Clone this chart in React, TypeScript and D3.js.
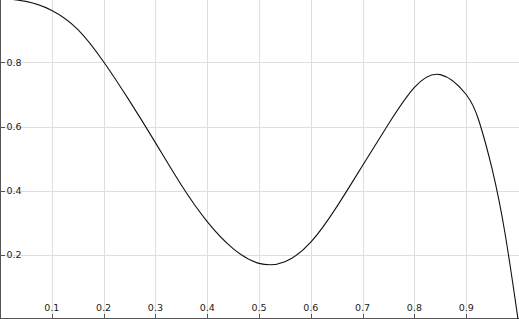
import * as d3 from "d3";

const W = 519;
const H = 319;

// curve samples
const xs = [0, 0.05, 0.1, 0.15, 0.2, 0.25, 0.3, 0.35, 0.4, 0.45, 0.5, 0.55, 0.6, 0.65, 0.7, 0.75, 0.8, 0.85, 0.9, 0.925, 0.95, 0.975, 1.0];
const ys = [1.0, 0.99, 0.962, 0.903, 0.802, 0.68, 0.55, 0.418, 0.304, 0.22, 0.174, 0.179, 0.24, 0.35, 0.479, 0.608, 0.722, 0.762, 0.7, 0.616, 0.468, 0.267, 0.0];

const xTicks = [0.1, 0.2, 0.3, 0.4, 0.5, 0.6, 0.7, 0.8, 0.9];
const yTicks = [0.2, 0.4, 0.6, 0.8];

export default function App() {
  const x = d3.scaleLinear().domain([0, 1]).range([0, 518]);
  const y = d3.scaleLinear().domain([0, 1]).range([319.2, -1.8]);

  const pts = xs.map((v, i) => [v, ys[i]] as [number, number]);
  const line = d3
    .line<[number, number]>()
    .x((d) => x(d[0]))
    .y((d) => y(d[1]))
    .curve(d3.curveNatural);

  const font = "DejaVu Sans, sans-serif";

  return (
    <div style={{ position: "fixed", left: 0, top: 0 }}>
      <svg width={W} height={H} style={{ display: "block", background: "#fff" }}>
        <defs>
          <clipPath id="plot">
            <rect x={0} y={0} width={W} height={H} />
          </clipPath>
        </defs>
        {/* grid */}
        <g stroke="#dedede" strokeWidth={1}>
          {xTicks.map((t) => (
            <line key={"gx" + t} x1={Math.round(x(t)) + 0.5} x2={Math.round(x(t)) + 0.5} y1={0} y2={H} />
          ))}
          {yTicks.map((t) => (
            <line key={"gy" + t} x1={0} x2={W} y1={Math.round(y(t)) + 0.5} y2={Math.round(y(t)) + 0.5} />
          ))}
        </g>
        {/* axes */}
        <g stroke="#555" strokeWidth={1}>
          <line x1={0.5} x2={0.5} y1={0} y2={H} />
          <line x1={0} x2={W} y1={H - 0.5} y2={H - 0.5} />
          {xTicks.map((t) => (
            <line key={"tx" + t} x1={Math.round(x(t)) + 0.5} x2={Math.round(x(t)) + 0.5} y1={H - 5} y2={H} />
          ))}
          {yTicks.map((t) => (
            <line key={"ty" + t} x1={0} x2={5} y1={Math.round(y(t)) + 0.5} y2={Math.round(y(t)) + 0.5} />
          ))}
        </g>
        {/* labels */}
        <g fontFamily={font} fontSize={9.5} fill="#222">
          {xTicks.map((t) => (
            <text key={"lx" + t} x={x(t)} y={H - 8.5} textAnchor="middle">
              {t.toFixed(1)}
            </text>
          ))}
          {yTicks.map((t) => (
            <text key={"ly" + t} x={6.5} y={y(t)} dy="0.35em" textAnchor="start">
              {t.toFixed(1)}
            </text>
          ))}
        </g>
        <path d={line(pts) ?? ""} fill="none" stroke="#111" strokeWidth={1.1} clipPath="url(#plot)" />
      </svg>
    </div>
  );
}
